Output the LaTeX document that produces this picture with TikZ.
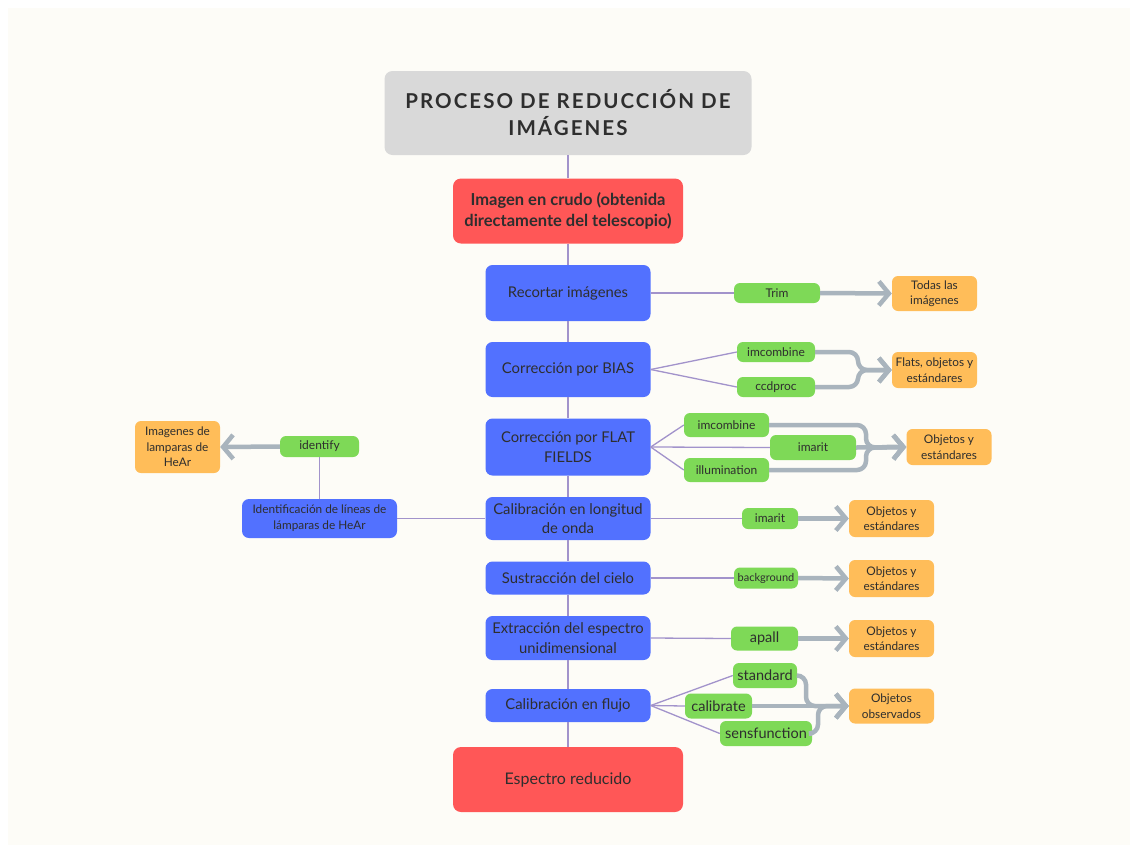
\documentclass[tikz,border=0pt]{standalone}
\usepackage{fontspec}
\setmainfont{Lato}
\newfontfamily\titlefont[LetterSpace=10]{Lato}
\usetikzlibrary{arrows.meta}
\definecolor{fondo}{HTML}{FDFCF7}
\definecolor{tgris}{HTML}{D9D9D9}
\definecolor{trojo}{HTML}{FF5757}
\definecolor{tazul}{HTML}{5271FF}
\definecolor{tverde}{HTML}{7ED957}
\definecolor{tnaranja}{HTML}{FFBD59}
\definecolor{tlinea}{HTML}{A293CB}
\definecolor{tflecha}{HTML}{A9B4BD}
\definecolor{ttexto}{HTML}{2E2E2E}

\begin{document}
\begin{tikzpicture}[
    x=1pt, y=-1pt,
    titulo/.style={rectangle, rounded corners=8pt, fill=tgris, minimum width=367pt,
                   minimum height=84pt, align=center, text=ttexto,
                   font=\titlefont\fontsize{20.5}{27}\selectfont\bfseries},
    extremo/.style={rectangle, rounded corners=8pt, fill=trojo, minimum width=230pt,
                    minimum height=65pt, align=center, text=ttexto,
                    font=\fontsize{16}{21}\selectfont},
    paso/.style={rectangle, rounded corners=7pt, fill=tazul, minimum width=165pt,
                 inner sep=0pt, align=center, text=ttexto,
                 font=\fontsize{14.8}{19.5}\selectfont},
    herr/.style={rectangle, rounded corners=6pt, fill=tverde, inner sep=0pt,
                 align=center, text=ttexto, font=\fontsize{12}{14}\selectfont},
    salida/.style={rectangle, rounded corners=6pt, fill=tnaranja, inner sep=0pt,
                   minimum width=85pt, minimum height=36pt, align=center, text=ttexto,
                   font=\fontsize{11.8}{15.5}\selectfont},
    enlace/.style={draw=tlinea, line width=1.3pt},
    flecha/.style={draw=tflecha, line width=4.5pt, rounded corners=9pt,
                   -{Straight Barb[length=10pt,width=24pt]}}
  ]
  \fill[white] (0,0) rectangle (1138,852);
  \fill[fondo] (8,8) rectangle (1130,845);
  \useasboundingbox (0,0) rectangle (1138,852);

  % cadena principal
  \node[titulo] (titulo) at (568,113) {PROCESO DE REDUCCIÓN DE\\IMÁGENES};
  \node[extremo, font=\fontsize{16.5}{21}\selectfont\bfseries] (crudo) at (568,211)
       {Imagen en crudo (obtenida\\directamente del telescopio)};
  \node[paso, minimum height=56pt] (recorte) at (568,293) {Recortar imágenes};
  \node[paso, minimum height=55pt] (bias) at (568,369.5) {Corrección por BIAS};
  \node[paso, minimum height=57pt] (flat) at (568,447) {Corrección por FLAT\\FIELDS};
  \node[paso, minimum height=43pt] (calib) at (568,518.5) {Calibración en longitud\\de onda};
  \node[paso, minimum height=33pt] (cielo) at (568,578) {Sustracción del cielo};
  \node[paso, minimum height=44pt] (extrac) at (568,638) {Extracción del espectro\\unidimensional};
  \node[paso, minimum height=33pt] (flujo) at (568,705.5) {Calibración en flujo};
  \node[extremo] (final) at (568,779.5) {Espectro reducido};

  \draw[enlace] (titulo) -- (crudo);
  \draw[enlace] (crudo) -- (recorte);
  \draw[enlace] (recorte) -- (bias);
  \draw[enlace] (bias) -- (flat);
  \draw[enlace] (flat) -- (calib);
  \draw[enlace] (calib) -- (cielo);
  \draw[enlace] (cielo) -- (extrac);
  \draw[enlace] (extrac) -- (flujo);
  \draw[enlace] (flujo) -- (final);

  % recorte
  \node[herr, minimum width=86pt, minimum height=20pt] (trim) at (777,293) {Trim};
  \node[salida, minimum height=35pt] (todas) at (934.5,293.5) {Todas las\\imágenes};
  \draw[enlace] (recorte.east) -- (trim.west);
  \draw[flecha] (trim.east) -- (todas.west);

  % bias
  \node[herr, minimum width=78pt, minimum height=20pt] (bimcomb) at (776,352) {imcombine};
  \node[herr, minimum width=78pt, minimum height=20pt] (ccdproc) at (776,387) {ccdproc};
  \node[salida] (bsal) at (934.5,370) {Flats, objetos y\\estándares};
  \coordinate (bunion) at (858,370);
  \draw[enlace] (bias.east) -- (bimcomb.west);
  \draw[enlace] (bias.east) -- (ccdproc.west);
  \draw[flecha] (bimcomb.east) -| (bunion) -- (bsal.west);
  \draw[flecha] (ccdproc.east) -| (bunion) -- (bsal.west);

  % flat fields
  \node[herr, minimum width=85pt, minimum height=24pt] (fimcomb) at (726.5,425) {imcombine};
  \node[herr, minimum width=86pt, minimum height=25pt] (fimarit) at (813,447.5) {imarit};
  \node[herr, minimum width=85pt, minimum height=24pt] (illum) at (726.5,470) {illumination};
  \node[salida] (fsal) at (949,447) {Objetos y\\estándares};
  \coordinate (funion) at (866,447.5);
  \draw[enlace] (flat.east) -- (fimcomb.west);
  \draw[enlace] (flat.east) -- (fimarit.west);
  \draw[enlace] (flat.east) -- (illum.west);
  \draw[flecha] (fimcomb.east) -| (funion) -- (fsal.west);
  \draw[flecha] (illum.east) -| (funion) -- (fsal.west);
  \draw[flecha] (fimarit.east) -- (fsal.west);

  % longitud de onda
  \node[herr, minimum width=56pt, minimum height=21pt] (cimarit) at (770,518.5) {imarit};
  \node[salida, minimum height=37pt] (csal) at (891.5,518.5) {Objetos y\\estándares};
  \node[paso, minimum width=155pt, minimum height=39pt, font=\fontsize{11.8}{16}\selectfont]
       (ident) at (319.5,518.5) {Identificación de líneas de\\lámparas de HeAr};
  \node[herr, minimum width=79pt, minimum height=21pt] (identify) at (319.5,446.5) {identify};
  \node[salida, minimum height=52pt] (lamp) at (177.5,447) {Imagenes de\\lamparas de\\HeAr};
  \draw[enlace] (calib.east) -- (cimarit.west);
  \draw[flecha] (cimarit.east) -- (csal.west);
  \draw[enlace] (calib.west) -- (ident.east);
  \draw[enlace] (ident.north) -- (identify.south);
  \draw[flecha] (identify.west) -- (lamp.east);

  % cielo
  \node[herr, minimum width=64pt, minimum height=21pt, font=\fontsize{11}{12}\selectfont]
       (backg) at (766,578) {background};
  \node[salida, minimum height=37pt] (ssal) at (891.5,578.5) {Objetos y\\estándares};
  \draw[enlace] (cielo.east) -- (backg.west);
  \draw[flecha] (backg.east) -- (ssal.west);

  % extraccion
  \node[herr, minimum width=67pt, minimum height=24pt, font=\fontsize{14.5}{15}\selectfont]
       (apall) at (764.5,638.5) {apall};
  \node[salida, minimum height=37pt] (esal) at (891.5,638.5) {Objetos y\\estándares};
  \draw[enlace] (extrac.east) -- (apall.west);
  \draw[flecha] (apall.east) -- (esal.west);

  % flujo
  \node[herr, minimum width=64pt, minimum height=25pt, font=\fontsize{14.5}{15}\selectfont]
       (standard) at (765,675.5) {standard};
  \node[herr, minimum width=67pt, minimum height=25pt, font=\fontsize{14.5}{15}\selectfont]
       (calibrate) at (718.5,706) {calibrate};
  \node[herr, minimum width=92pt, minimum height=25pt, font=\fontsize{14.5}{15}\selectfont]
       (sensf) at (766,733.5) {sensfunction};
  \node[salida, minimum height=35pt] (osal) at (891.5,706) {Objetos\\observados};
  \coordinate (uniona) at (806,706);
  \coordinate (unionb) at (818,706);
  \draw[enlace] (flujo.east) -- (standard.west);
  \draw[enlace] (flujo.east) -- (calibrate.west);
  \draw[enlace] (flujo.east) -- (sensf.west);
  \draw[flecha] (standard.east) -| (uniona) -- (osal.west);
  \draw[flecha] (sensf.east) -| (unionb) -- (osal.west);
  \draw[flecha] (calibrate.east) -- (osal.west);
\end{tikzpicture}
\end{document}
